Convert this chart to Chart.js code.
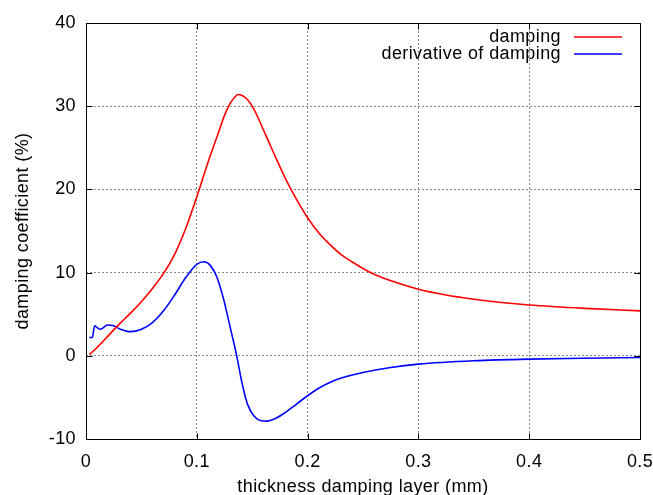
<!DOCTYPE html>
<html lang="en">
<head>
    <meta charset="UTF-8">
    <title>Damping coefficient vs thickness</title>
    <script src="https://cdn.jsdelivr.net/npm/chart.js"></script>
    <style>
        body {
            margin: 0;
            padding: 0;
            background-color: #fff;
        }

        .wrap {
            width: 653px;
            height: 495px;
        }
    </style>
</head>
<body>
    <div class="wrap">
        <canvas id="dampChart" width="653" height="495"></canvas>
    </div>

    <script>
        // values
        const dampX = [0.003, 0.01, 0.02, 0.03, 0.04, 0.05, 0.06, 0.07, 0.08, 0.09, 0.1, 0.11, 0.12, 0.125, 0.13,
            0.135, 0.1375, 0.14, 0.145, 0.15, 0.155, 0.16, 0.17, 0.18, 0.19, 0.2, 0.21, 0.22, 0.23, 0.24, 0.25,
            0.26, 0.28, 0.3, 0.325, 0.35, 0.375, 0.4, 0.45, 0.5];
        const dampY = [0.15, 1.0, 2.4, 3.8, 5.1, 6.5, 8.1, 9.9, 12.2, 15.3, 19.1, 23.2, 27.0, 28.9, 30.3,
            31.2, 31.4, 31.35, 30.9, 30.0, 28.7, 27.2, 24.2, 21.3, 18.8, 16.6, 14.8, 13.4, 12.2, 11.3, 10.5,
            9.8, 8.8, 8.0, 7.3, 6.8, 6.4, 6.1, 5.7, 5.4];

        const derivX = [0.003, 0.0057, 0.0078, 0.01, 0.013, 0.0195, 0.025, 0.031, 0.04, 0.05, 0.06, 0.07, 0.08,
            0.09, 0.1, 0.1066, 0.112, 0.118, 0.124, 0.13, 0.136, 0.141, 0.146, 0.152, 0.158, 0.1636, 0.17,
            0.18, 0.19, 0.2, 0.21, 0.22, 0.235, 0.25, 0.275, 0.3, 0.35, 0.4, 0.45, 0.5];
        const derivY = [2.2, 2.2, 3.6, 3.4, 3.2, 3.7, 3.6, 3.2, 2.9, 3.2, 4.0, 5.4, 7.3,
            9.4, 11.0, 11.3, 10.9, 9.5, 6.9, 3.5, 0.0, -3.4, -5.9, -7.3, -7.8, -7.85, -7.6,
            -6.8, -5.8, -4.8, -3.9, -3.2, -2.5, -2.0, -1.4, -1.0, -0.6, -0.4, -0.3, -0.2];

        const xTicks = [0, 0.1, 0.2, 0.3, 0.4, 0.5];
        const yTicks = [-10, 0, 10, 20, 30, 40];

        const seriesNames = ['damping', 'derivative of damping'];
        const seriesColors = ['#ff0000', '#0000ff'];

        const fontFamily = "'Liberation Sans', Arial, sans-serif";
        const fontSize = 18;

        function toPoints(xs, ys) {
            return xs.map((x, i) => ({ x: x, y: ys[i] }));
        }

        // gnuplot text runs a little wider than Arial
        const spacing = {
            id: 'spacing',
            beforeDraw(chart) {
                chart.ctx.letterSpacing = '0.4px';
            }
        };

        // box round the plot with inward ticks (gnuplot style)
        const frameTicks = {
            id: 'frameTicks',
            afterDatasetsDraw(chart) {
                const { ctx, chartArea: ca, scales } = chart;
                const L = Math.round(ca.left) + 0.5;
                const R = Math.round(ca.right) + 0.5;
                const T = Math.round(ca.top) + 0.5;
                const B = Math.round(ca.bottom) + 0.5;
                const len = 6;
                ctx.save();
                ctx.strokeStyle = '#000';
                ctx.lineWidth = 1;
                ctx.beginPath();
                xTicks.forEach(v => {
                    const px = Math.round(scales.x.getPixelForValue(v)) + 0.5;
                    ctx.moveTo(px, B); ctx.lineTo(px, B - len);
                    ctx.moveTo(px, T); ctx.lineTo(px, T + len);
                });
                yTicks.forEach(v => {
                    const py = Math.round(scales.y.getPixelForValue(v)) + 0.5;
                    ctx.moveTo(L, py); ctx.lineTo(L + len, py);
                    ctx.moveTo(R, py); ctx.lineTo(R - len, py);
                });
                ctx.stroke();
                ctx.strokeRect(L, T, R - L, B - T);
                ctx.restore();
            }
        };

        // key in the top right corner, text left of the line sample
        const insideLegend = {
            id: 'insideLegend',
            afterDraw(chart) {
                const { ctx, chartArea: ca } = chart;
                ctx.save();
                ctx.font = fontSize + 'px ' + fontFamily;
                ctx.textAlign = 'right';
                ctx.textBaseline = 'middle';
                chart.data.datasets.forEach((ds, i) => {
                    const y = ca.top + 14 + i * 17;
                    ctx.fillStyle = '#000';
                    ctx.fillText(ds.label, ca.right - 79, y);
                    ctx.strokeStyle = ds.borderColor;
                    ctx.lineWidth = 1.6;
                    ctx.beginPath();
                    ctx.moveTo(ca.right - 66, y);
                    ctx.lineTo(ca.right - 18, y);
                    ctx.stroke();
                });
                ctx.restore();
            }
        };

        const ctx = document.getElementById('dampChart').getContext('2d');
        const dampChart = new Chart(ctx, {
            type: 'scatter',
            data: {
                datasets: [{
                    label: seriesNames[0],
                    data: toPoints(dampX, dampY),
                    showLine: true,
                    borderColor: seriesColors[0],
                    backgroundColor: seriesColors[0],
                    borderWidth: 1.6,
                    pointRadius: 0,
                    cubicInterpolationMode: 'monotone'
                }, {
                    label: seriesNames[1],
                    data: toPoints(derivX, derivY),
                    showLine: true,
                    borderColor: seriesColors[1],
                    backgroundColor: seriesColors[1],
                    borderWidth: 1.6,
                    pointRadius: 0,
                    cubicInterpolationMode: 'monotone'
                }]
            },
            options: {
                responsive: false,
                animation: false,
                events: [],
                layout: {
                    padding: { top: 23, right: 13, left: 0, bottom: 0 }
                },
                plugins: {
                    legend: { display: false },
                    tooltip: { enabled: false }
                },
                scales: {
                    x: {
                        type: 'linear',
                        min: 0,
                        max: 0.5,
                        afterFit(scale) {
                            scale.height = 56;
                            scale.paddingLeft = 0;
                            scale.paddingRight = 0;
                        },
                        afterBuildTicks(scale) { scale.ticks = xTicks.map(v => ({ value: v })); },
                        grid: { color: '#8a8a8a', lineWidth: 1, drawTicks: false },
                        border: { display: false, dash: [2, 2] },
                        ticks: {
                            color: '#000',
                            padding: 12,
                            font: { family: fontFamily, size: fontSize },
                            callback: v => String(v)
                        },
                        title: {
                            display: true,
                            text: 'thickness damping layer (mm)',
                            color: '#000',
                            padding: { top: 0, bottom: -1 },
                            font: { family: fontFamily, size: fontSize, lineHeight: 1 }
                        }
                    },
                    y: {
                        min: -10,
                        max: 40,
                        afterFit(scale) {
                            scale.width = 86;
                            scale.paddingTop = 0;
                            scale.paddingBottom = 0;
                        },
                        afterBuildTicks(scale) { scale.ticks = yTicks.map(v => ({ value: v })); },
                        grid: { color: '#8a8a8a', lineWidth: 1, drawTicks: false },
                        border: { display: false, dash: [2, 2] },
                        ticks: {
                            color: '#000',
                            padding: 10,
                            font: { family: fontFamily, size: fontSize }
                        },
                        title: {
                            display: true,
                            text: 'damping coefficient (%)',
                            color: '#000',
                            padding: { top: 14, bottom: 0 },
                            font: { family: fontFamily, size: fontSize, lineHeight: 1 }
                        }
                    }
                }
            },
            plugins: [spacing, frameTicks, insideLegend]
        });
    </script>
</body>
</html>
